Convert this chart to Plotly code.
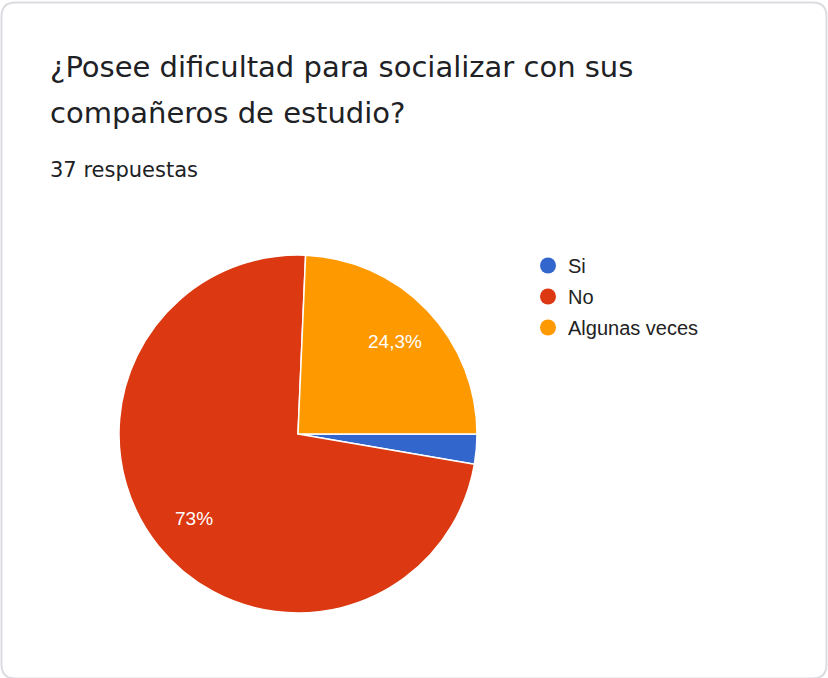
import math
import plotly.graph_objects as go

# Respuestas de la encuesta
etiquetas = ["Si", "No", "Algunas veces"]
respuestas = [1, 27, 9]
colores = ["#3366cc", "#dc3912", "#ff9900"]

titulo_1 = "¿Posee dificultad para socializar con sus"
titulo_2 = "compañeros de estudio?"
subtitulo = "37 respuestas"

W, H = 828, 678
rotacion = 90

total = sum(respuestas)
textos = []
for v in respuestas:
    p = round(v / total * 100, 1)
    if p < 5:
        textos.append("")
    else:
        s = ("%.1f" % p).rstrip("0").rstrip(".")
        textos.append(s.replace(".", ",") + "%")

dom_x = [119 / W, 477 / W]
dom_y = [1 - 613 / H, 1 - 255 / H]

fig = go.Figure()

fig.add_trace(go.Pie(
    labels=etiquetas, values=respuestas,
    textinfo="none", sort=False, direction="clockwise", rotation=rotacion,
    marker=dict(colors=colores, line=dict(color="white", width=1.5)),
    showlegend=False, hoverinfo="label+percent",
    domain=dict(x=dom_x, y=dom_y),
))

# etiquetas de porcentaje, como en Google Forms (mas hacia el borde)
cx = (dom_x[0] + dom_x[1]) / 2 * W
cy = (1 - (dom_y[0] + dom_y[1]) / 2) * H
radio = min((dom_x[1] - dom_x[0]) * W, (dom_y[1] - dom_y[0]) * H) / 2
acum = 0
for v, t in zip(respuestas, textos):
    ang = math.radians(rotacion + (acum + v / 2) / total * 360)
    acum += v
    if not t:
        continue
    px = cx + math.sin(ang) * radio * 0.75
    py = cy - math.cos(ang) * radio * 0.75
    fig.add_annotation(text=t, x=px / W, y=1 - py / H, xref="paper", yref="paper",
                       showarrow=False, xanchor="center", yanchor="middle",
                       font=dict(family="Liberation Sans, Arial", size=19, color="white"))

# leyenda con circulos
for et, c in zip(etiquetas, colores):
    fig.add_trace(go.Scatter(
        x=[None], y=[None], mode="markers", name=et, legendgroup=et,
        marker=dict(symbol="circle", size=16, color=c),
    ))

# marco de la tarjeta
r = 14
x0, x1, y0, y1 = 1.5, W - 1.5, 2.5, H + 0.5
fx = lambda v: v / W
fy = lambda v: 1 - v / H
path = (f"M {fx(x0 + r)},{fy(y0)} L {fx(x1 - r)},{fy(y0)} "
        f"Q {fx(x1)},{fy(y0)} {fx(x1)},{fy(y0 + r)} L {fx(x1)},{fy(y1 - r)} "
        f"Q {fx(x1)},{fy(y1)} {fx(x1 - r)},{fy(y1)} L {fx(x0 + r)},{fy(y1)} "
        f"Q {fx(x0)},{fy(y1)} {fx(x0)},{fy(y1 - r)} L {fx(x0)},{fy(y0 + r)} "
        f"Q {fx(x0)},{fy(y0)} {fx(x0 + r)},{fy(y0)} Z")
fig.add_shape(type="path", path=path, xref="paper", yref="paper",
              line=dict(color="#dadce0", width=2), layer="below")

titulo_font = dict(family="DejaVu Sans", size=29, color="#202124")
fig.add_annotation(text=titulo_1, x=48 / W, y=1 - 67 / H, xref="paper", yref="paper",
                   xanchor="left", yanchor="middle", showarrow=False, font=titulo_font)
fig.add_annotation(text=titulo_2, x=48 / W, y=1 - 113 / H, xref="paper", yref="paper",
                   xanchor="left", yanchor="middle", showarrow=False, font=titulo_font)
fig.add_annotation(text=subtitulo, x=48 / W, y=1 - 170 / H, xref="paper", yref="paper",
                   xanchor="left", yanchor="middle", showarrow=False,
                   font=dict(family="DejaVu Sans", size=21, color="#202124"))

fig.update_layout(
    width=W, height=H,
    margin=dict(l=0, r=0, t=0, b=0),
    paper_bgcolor="white", plot_bgcolor="white",
    xaxis=dict(visible=False), yaxis=dict(visible=False),
    legend=dict(x=528 / W, y=1 - 246 / H, xanchor="left", yanchor="top",
                font=dict(family="Liberation Sans, Arial", size=20, color="#222222"),
                tracegroupgap=2, itemsizing="trace", bgcolor="rgba(0,0,0,0)"),
)

fig.write_html("out.html", config={"displayModeBar": False},
               post_script="document.body.style.margin='0';")
